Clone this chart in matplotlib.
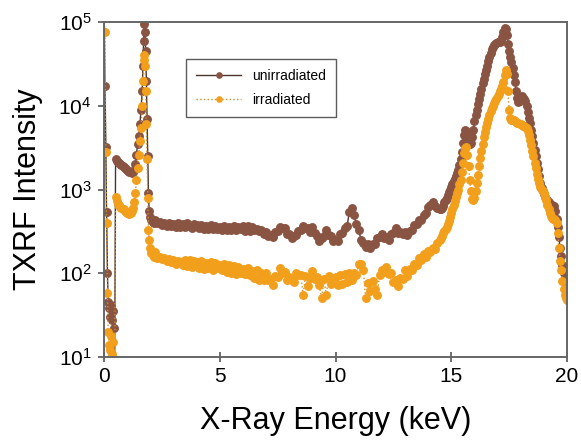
import numpy as np
import matplotlib
matplotlib.use("Agg")
import matplotlib.pyplot as plt

plt.rcParams['font.family'] = ['Liberation Sans', 'DejaVu Sans']

# low energy part of the spectrum (fine steps around the Si peak)
e_low = [0.00, 0.04, 0.08, 0.11, 0.15, 0.18, 0.22, 0.26, 0.30, 0.34, 0.38, 0.42, 0.46,
         0.50, 0.55, 0.60, 0.65, 0.70, 0.75, 0.80, 0.85, 0.90, 0.95, 1.00, 1.05, 1.10,
         1.15, 1.20, 1.25, 1.30, 1.35, 1.40, 1.45, 1.50, 1.55, 1.60, 1.65, 1.68, 1.71,
         1.74, 1.77, 1.80, 1.83, 1.86, 1.89, 1.92, 1.95, 2.00, 2.05, 2.10, 2.15]
unirr_low = [2.0e5, 1.7e4, 3200, 540, 100, 45, 38, 30, 42, 28, 35, 22, 8,
             2300, 2200, 2150, 2100, 2000, 1950, 1900, 1850, 1800, 1750, 1700, 1650, 1620,
             1600, 1580, 1600, 1700, 2000, 2600, 3500, 4300, 6000, 9000, 1.5e4, 3.0e4, 6.0e4,
             9.5e4, 7.5e4, 4.5e4, 2.0e4, 7000, 2500, 900, 550, 470, 430, 410, 400]
irr_low = [1.2e5, 7.6e4, 2800, 400, 58, 20, 14, 12, 18, 11, 15, 9, 5,
           820, 720, 680, 650, 620, 600, 590, 580, 560, 540, 530, 520, 510,
           520, 550, 600, 700, 900, 1300, 1800, 2600, 3800, 5500, 1.0e4, 2.0e4, 3.5e4,
           4.0e4, 3.0e4, 1.5e4, 6000, 2300, 800, 330, 250, 200, 175, 165, 158]

# 2.2 - 14.4 keV, 0.1 keV channels
e_mid = np.round(np.arange(2.2, 14.45, 0.1), 2)
unirr_mid = [
    430, 395, 405, 372, 398, 365, 395, 368,
    392, 358, 398, 355, 390, 352, 396, 362, 350, 388,
    372, 345, 380, 342, 365, 338, 372, 340, 362, 335,
    360, 330, 368, 328, 356, 332, 362, 325, 360, 335,
    362, 322, 366, 320, 355, 325, 340, 318, 328, 298,
    310, 280, 290, 272, 312, 318, 360, 350, 345, 292,
    296, 266, 280, 283, 322, 325, 362, 345, 350, 310,
    360, 300, 282, 240, 265, 282, 330, 290, 278, 242,
    248, 240, 295, 300, 345, 370, 540, 600, 490, 390,
    330, 250, 230, 205, 222, 200, 225, 226, 266, 274,
    298, 262, 268, 252, 292, 302, 348, 305, 310, 298,
    312, 285, 322, 326, 378, 392, 435, 432, 498, 528,
    620, 645, 710, 635, 595]
irr_mid = [
    178, 150, 158, 146, 150, 140, 146, 136,
    145, 130, 140, 138, 126, 145, 122, 142, 120, 140,
    136, 116, 140, 112, 134, 114, 136, 108, 132, 116,
    126, 108, 130, 104, 126, 102, 122, 98, 120, 100,
    112, 98, 116, 94, 106, 88, 108, 84, 100, 84,
    100, 82, 86, 72, 92, 90, 114, 102, 104, 82,
    90, 84, 78, 102, 94, 96, 55, 92, 70, 88,
    106, 86, 90, 72, 50, 86, 55, 92, 74, 88,
    90, 72, 94, 74, 98, 78, 100, 82, 102, 96,
    128, 130, 110, 50, 76, 62, 80, 64, 55, 96,
    108, 104, 120, 98, 100, 78, 82, 70, 88, 86,
    108, 92, 112, 110, 128, 124, 150, 144, 168, 158,
    182, 180, 198, 196, 228]

# 14.5 - 20.0 keV, 0.05 keV channels (Rh K lines)
e_peak = np.round(np.arange(14.5, 20.025, 0.05), 2)
unirr_peak = [
    580, 590, 600, 640, 700, 750, 800, 860, 930, 1000,
    1070, 1150, 1250, 1350, 1450, 1580, 1700, 1950, 2300, 2800,
    3600, 4500, 5200, 5000, 4300, 3700, 3500, 3600, 4200, 5200,
    6500, 7800, 9000, 10500, 12000, 14000, 16000, 18500, 21000, 24000,
    27000, 30000, 34000, 38000, 43000, 47000, 50000, 53000, 55000, 56000,
    57000, 58000, 57000, 60000, 66000, 75000, 85000, 82000, 70000, 55000,
    45000, 38000, 33000, 28000, 23000, 19000, 15000, 12500, 11000, 11500,
    12500, 13000, 12500, 12000, 11500, 10000, 8500, 7200, 6200, 5200,
    4300, 3600, 3000, 2500, 2100, 1750, 1450, 1200, 1050, 950,
    880, 820, 780, 740, 700, 680, 660, 650, 640, 640,
    560, 450, 360, 270, 200, 160, 125, 100, 85, 70,
    50]
irr_peak = [
    250, 265, 280, 300, 320, 340, 360, 390, 420, 470,
    520, 580, 650, 730, 810, 900, 1000, 1150, 1300, 1600,
    2100, 2700, 3100, 3200, 2600, 1900, 1300, 950, 780, 740,
    800, 950, 1200, 1500, 1900, 2400, 2900, 3500, 4200, 4900,
    5600, 6300, 7000, 7800, 8600, 9400, 10000, 10800, 11500, 12000,
    13000, 14000, 15000, 16000, 17000, 19000, 23000, 27000, 24000, 15000,
    9000, 7200, 6800, 6700, 6800, 6600, 6400, 6300, 6200, 6100,
    6000, 5900, 5800, 5700, 5600, 5400, 5000, 4500, 3900, 3400,
    2900, 2500, 2100, 1800, 1550, 1350, 1200, 1080, 1000, 950,
    900, 820, 740, 660, 580, 520, 480, 460, 450, 440,
    430, 400, 300, 200, 140, 110, 80, 65, 55, 50,
    48]

energy = np.concatenate([e_low, e_mid, e_peak])
unirradiated = np.concatenate([unirr_low, unirr_mid, unirr_peak])
irradiated = np.concatenate([irr_low, irr_mid, irr_peak])

brown = '#8a5443'
orange = '#f29f1c'

fig = plt.figure(figsize=(5.81, 4.46), dpi=100)
ax = fig.add_axes([0.179, 0.1996, 0.797, 0.751])

ax.plot(energy, unirradiated, '-', color='#4a352c', lw=1.0, marker='o', ms=5.4,
        mfc=brown, mec=brown, label='unirradiated')
ax.plot(energy, irradiated, ':', color='#d0902a', lw=1.0, marker='o', ms=5.4,
        mfc=orange, mec=orange, label='irradiated')

ax.set_yscale('log')
ax.set_xlim(0, 20)
ax.set_ylim(10, 1e5)
ax.set_xticks([0, 5, 10, 15, 20])
ax.set_yticks([1e1, 1e2, 1e3, 1e4, 1e5])
ax.set_yticklabels([r'$\mathregular{10^{%d}}$' % k for k in range(1, 6)])
ax.minorticks_off()
ax.tick_params(axis='x', direction='inout', length=7, width=1.2, labelsize=15, pad=4,
               color='#555555')
ax.tick_params(axis='y', direction='out', length=4, width=1.2, labelsize=15, pad=5,
               color='#555555')
for s in ax.spines.values():
    s.set_color('#666666')
    s.set_linewidth(1.4)

ax.set_xlabel('X-Ray Energy (keV)', fontsize=22, labelpad=14)
ax.set_ylabel('TXRF Intensity', fontsize=22, labelpad=11)

leg = ax.legend(loc='upper left', bbox_to_anchor=(0.177, 0.89), fontsize=10,
                frameon=True, fancybox=False, handlelength=3.2, handletextpad=0.8,
                borderpad=0.75, labelspacing=0.7, borderaxespad=0, markerscale=0.7)
leg.get_frame().set_edgecolor('#333333')
leg.get_frame().set_linewidth(1.0)

plt.savefig('out.png', dpi=100)
